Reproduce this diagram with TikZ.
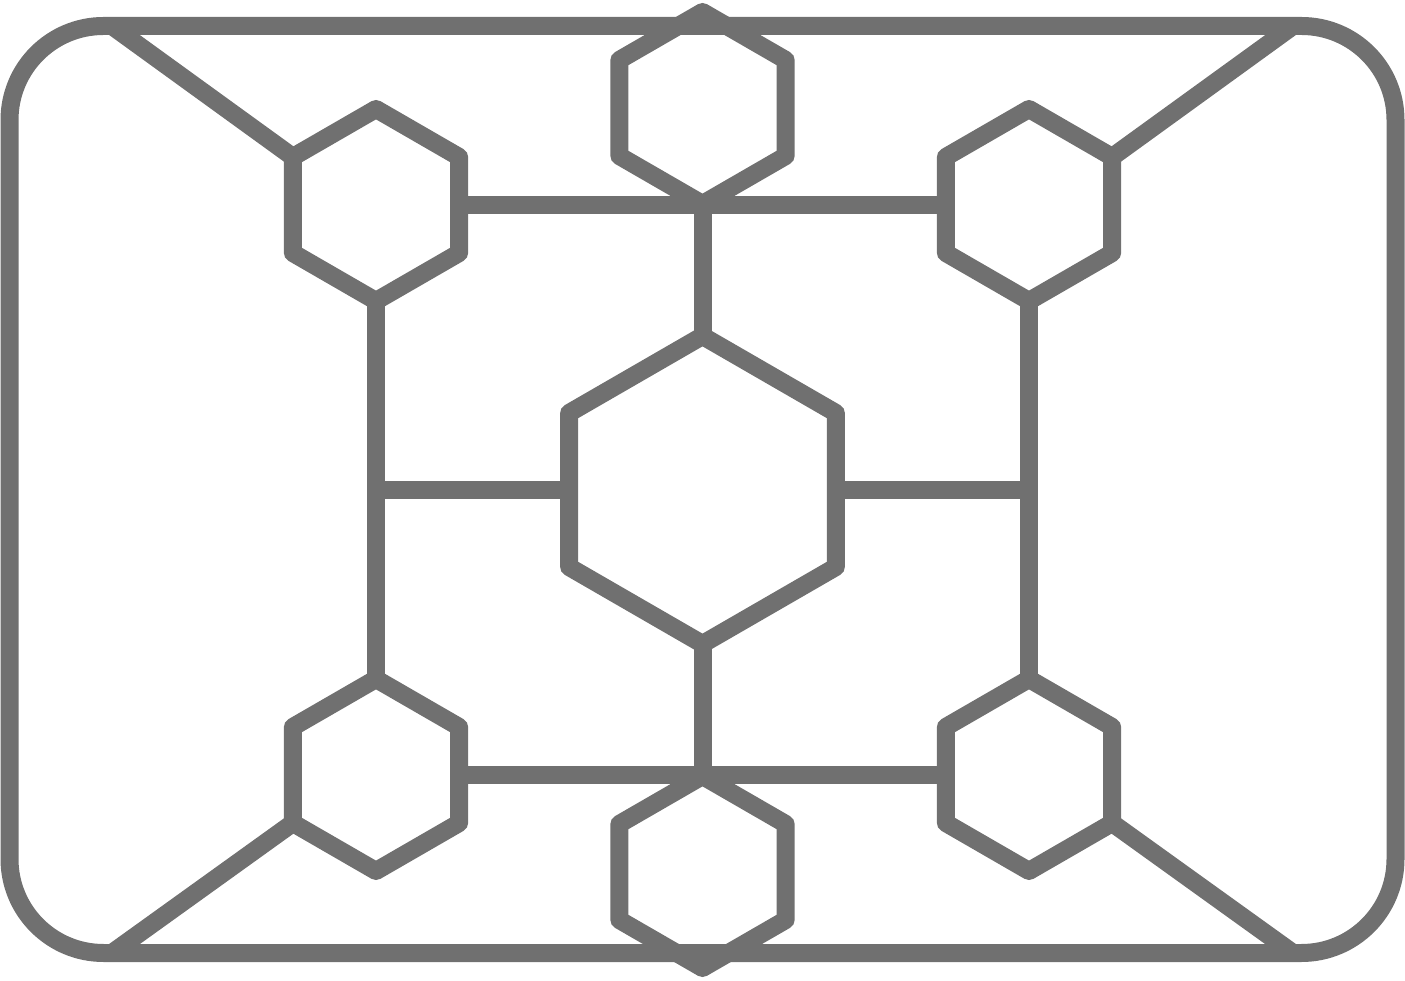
\documentclass[tikz,border=0pt]{standalone}
\usetikzlibrary{calc}
\definecolor{icongray}{RGB}{112,112,112}
\tikzset{icon/.style={draw=icongray, line width=18pt, line join=round}}
\newcommand\myhex[4]{%
  \coordinate (#1) at (#2,#3);
  \coordinate (#1-t) at ($(#1)+(90:#4)$);
  \coordinate (#1-ur) at ($(#1)+(30:#4)$);
  \coordinate (#1-lr) at ($(#1)+(-30:#4)$);
  \coordinate (#1-b) at ($(#1)+(-90:#4)$);
  \coordinate (#1-ll) at ($(#1)+(-150:#4)$);
  \coordinate (#1-ul) at ($(#1)+(150:#4)$);
  \coordinate (#1-r) at ($(#1-ur)!0.5!(#1-lr)$);
  \coordinate (#1-l) at ($(#1-ul)!0.5!(#1-ll)$);
  \draw[icon] (#1-t) -- (#1-ur) -- (#1-lr) -- (#1-b) -- (#1-ll) -- (#1-ul) -- cycle;
}
\begin{document}
\begin{tikzpicture}[x=1pt,y=1pt]
\useasboundingbox (0,0) rectangle (1405,980);
% frame
\coordinate (frameSW) at (9.5,27);
\coordinate (frameNE) at (1395.5,954);
\draw[icon, rounded corners=94pt] (frameSW) rectangle (frameNE);
\coordinate (cNW) at (112,954);
\coordinate (cNE) at (1293,954);
\coordinate (cSW) at (112,27);
\coordinate (cSE) at (1293,27);
% hexagons
\myhex{T}{702.5}{872}{96}
\myhex{TL}{376}{775}{96}
\myhex{TR}{1029}{775}{96}
\myhex{C}{702.5}{490}{154}
\myhex{BL}{376}{205}{96}
\myhex{BR}{1029}{205}{96}
\myhex{B}{702.5}{108}{96}
% junctions
\coordinate (jt) at (C-t |- TL-r);
\coordinate (jb) at (C-b |- BL-r);
\coordinate (jl) at (C-l -| TL);
\coordinate (jr) at (C-r -| TR);
% connectors
\draw[icon] (TL-r) -- (TR-l);
\draw[icon] (jt) -- (C-t);
\draw[icon] (BL-r) -- (BR-l);
\draw[icon] (C-b) -- (jb);
\draw[icon] (TL-b) -- (BL-t);
\draw[icon] (TR-b) -- (BR-t);
\draw[icon] (C-l) -- (jl);
\draw[icon] (C-r) -- (jr);
\draw[icon] (TL-ul) -- (cNW);
\draw[icon] (TR-ur) -- (cNE);
\draw[icon] (BL-ll) -- (cSW);
\draw[icon] (BR-lr) -- (cSE);
\end{tikzpicture}
\end{document}
